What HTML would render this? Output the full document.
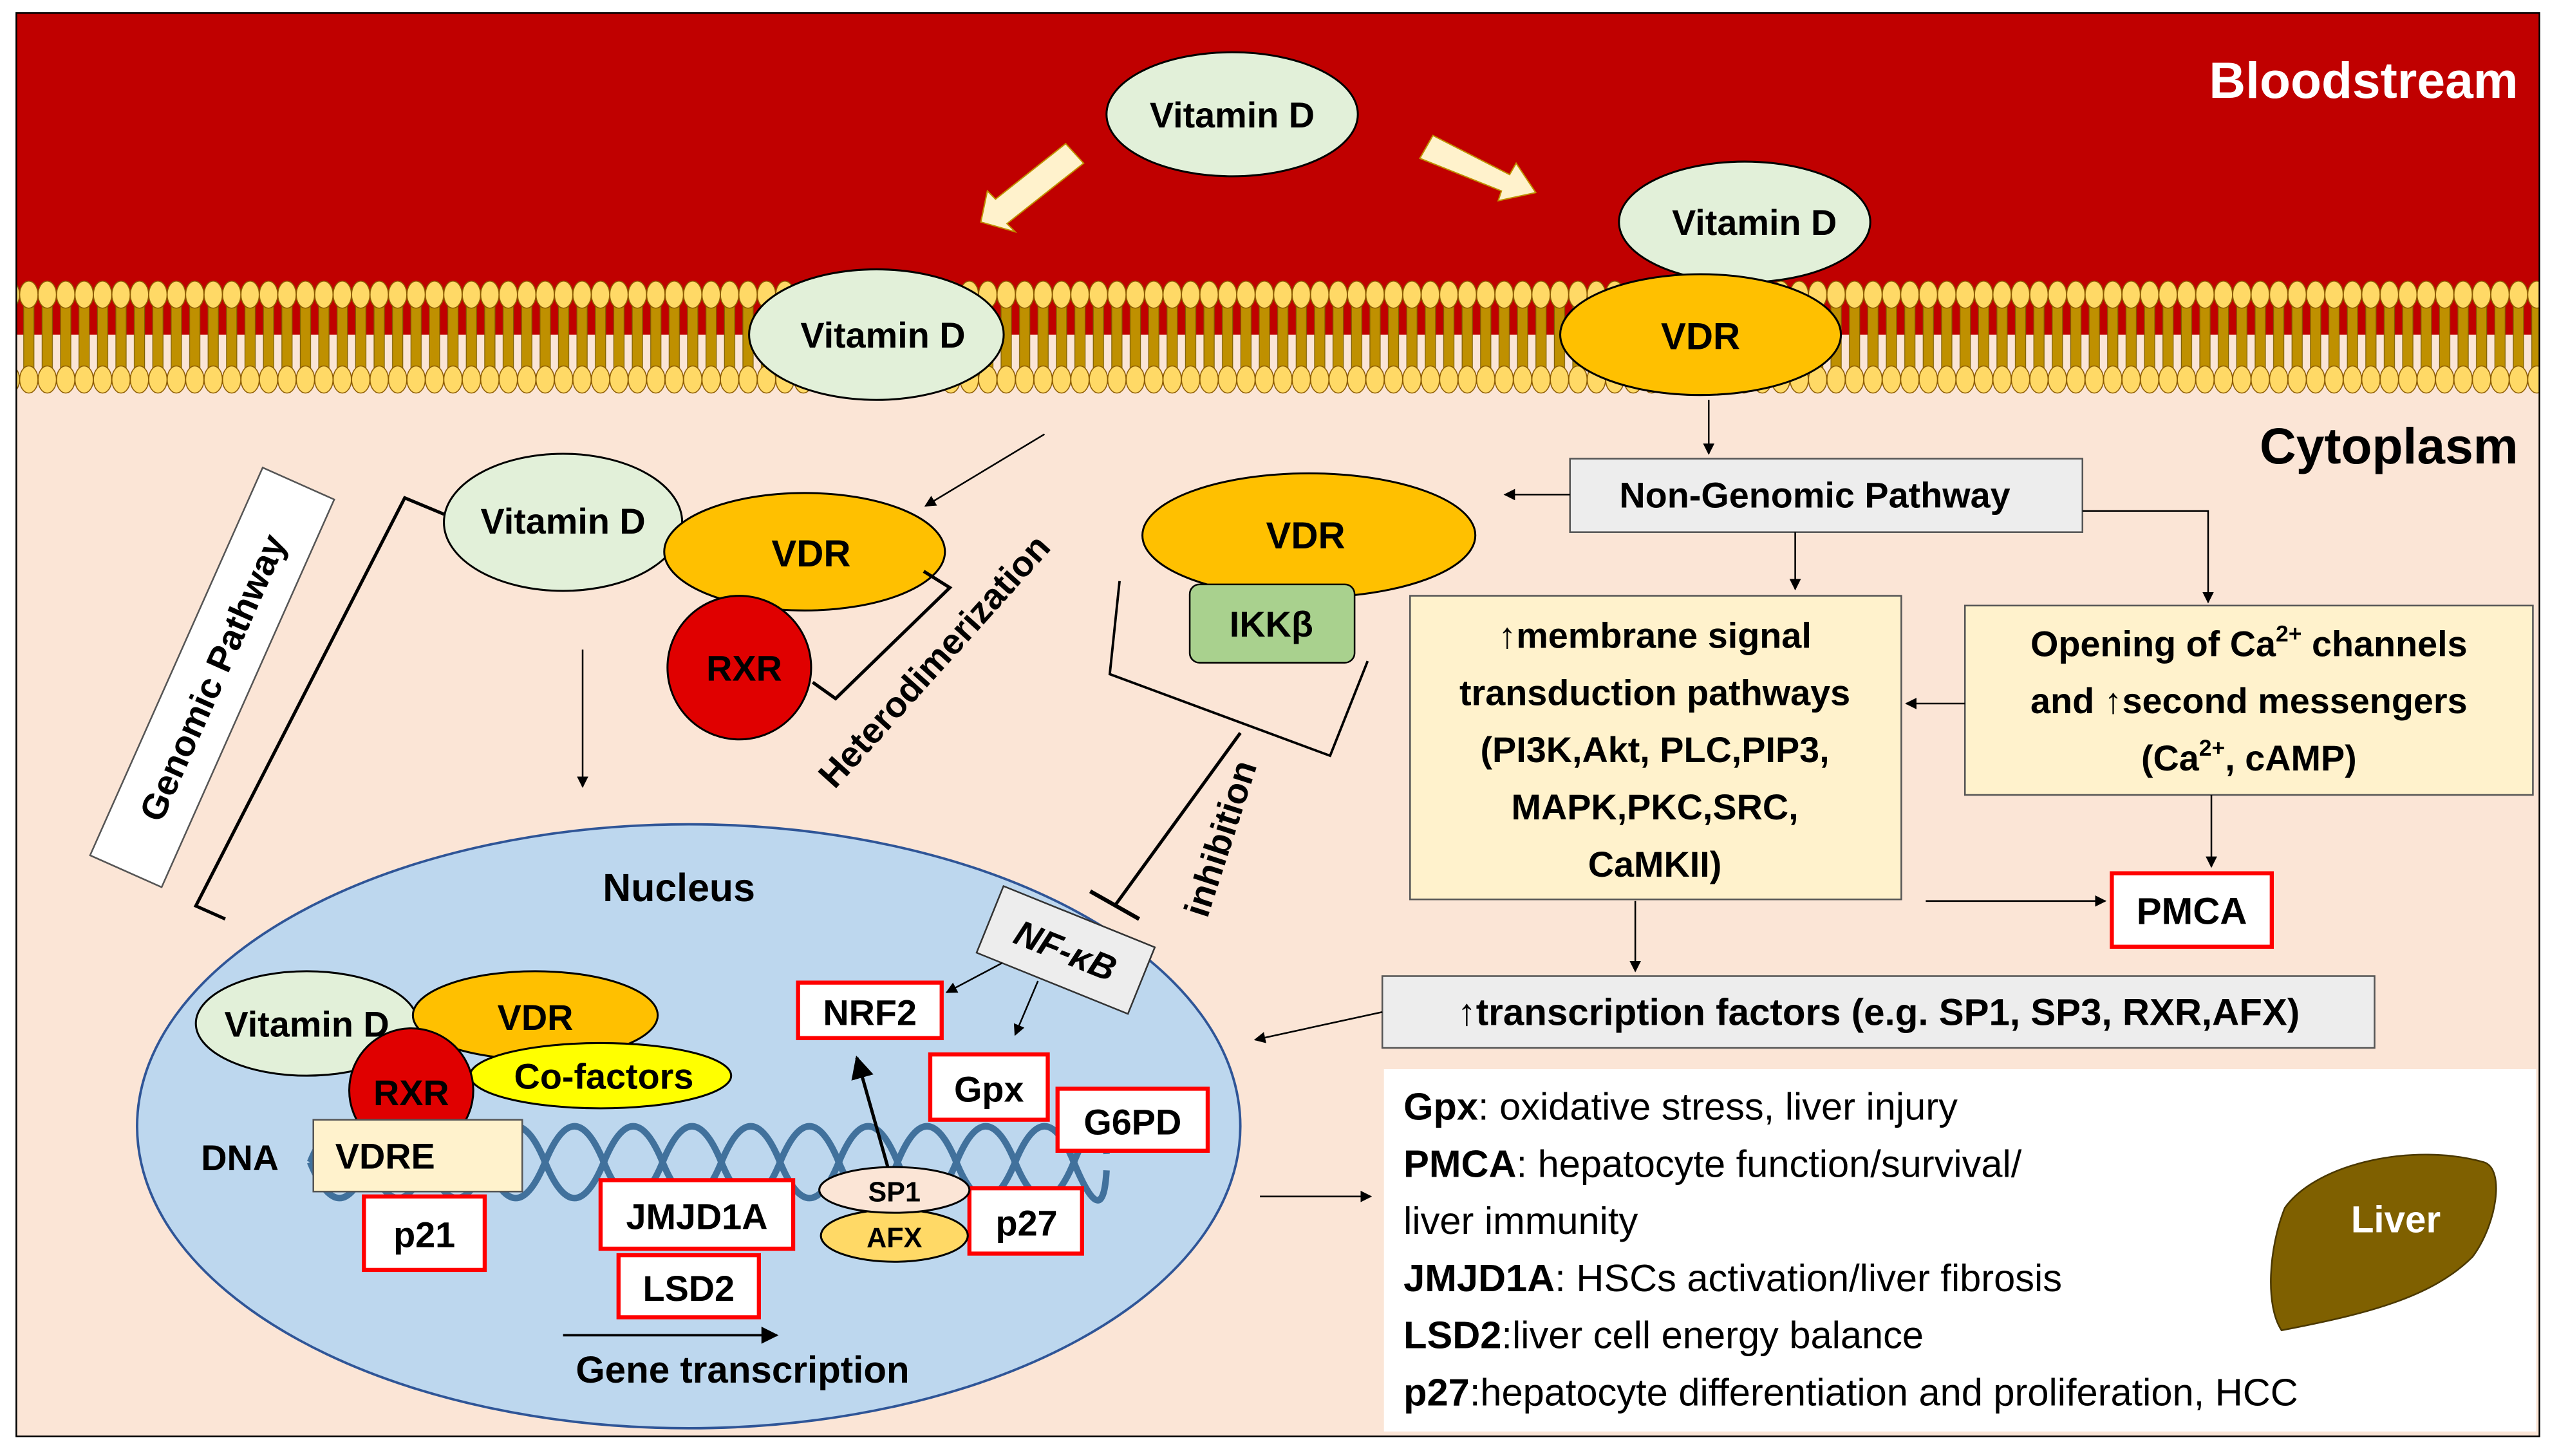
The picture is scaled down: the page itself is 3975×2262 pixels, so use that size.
<!DOCTYPE html>
<html><head><meta charset="utf-8"><style>
html,body{margin:0;padding:0;background:#fff}
svg{display:block}
text{font-family:"Liberation Sans",sans-serif}
</style></head><body>
<svg width="3975" height="2262" viewBox="0 0 1568 892" preserveAspectRatio="none" xmlns="http://www.w3.org/2000/svg">
<defs>
<marker id="ar" viewBox="0 0 10 10" refX="9" refY="5" markerWidth="7" markerHeight="7" orient="auto-start-reverse"><path d="M0,0 L10,5 L0,10 z" fill="#000"/></marker>
<pattern id="mem" x="12" y="0" width="11.3" height="892" patternUnits="userSpaceOnUse">
<rect x="2.5" y="186" width="6.3" height="48" fill="#BF9000" stroke="#7F6000" stroke-width="0.5"/>
<ellipse cx="5.65" cy="180.5" rx="5.6" ry="8.3" fill="#FFD966" stroke="#8B5A00" stroke-width="0.6"/>
<ellipse cx="5.65" cy="232.5" rx="5.6" ry="8.3" fill="#FFD966" stroke="#8B5A00" stroke-width="0.6"/>
</pattern>
</defs>
<rect x="0" y="0" width="1568" height="892" fill="#fff"/>
<rect x="10" y="8" width="1546" height="872" fill="#FBE5D6"/>
<rect x="10" y="8" width="1546" height="197" fill="#C00000"/>
<rect x="10" y="170" width="1546" height="75" fill="url(#mem)"/>
<rect x="10" y="8" width="1546" height="872" fill="none" stroke="#000" stroke-width="1"/>

<text x="1543" y="60" text-anchor="end" font-size="31" font-weight="bold" fill="#fff">Bloodstream</text>
<text x="1543" y="284" text-anchor="end" font-size="31" font-weight="bold" fill="#000">Cytoplasm</text>

<ellipse cx="755" cy="70" rx="77" ry="38" fill="#E2F0D9" stroke="#000" stroke-width="1.2"/>
<text x="755" y="78" text-anchor="middle" font-size="22" font-weight="bold">Vitamin D</text>
<polygon points="653,88 664,100 617,137 622,142 601,136 605,117 610,122" fill="#FFF2CC" stroke="#BF9000" stroke-width="0.8"/>
<polygon points="878,83 870,97 920,117 918,123 941,118 929,100 925,107" fill="#FFF2CC" stroke="#BF9000" stroke-width="0.8"/>

<ellipse cx="537" cy="205" rx="78" ry="40" fill="#E2F0D9" stroke="#000" stroke-width="1.2"/>
<text x="541" y="213" text-anchor="middle" font-size="22" font-weight="bold">Vitamin D</text>

<ellipse cx="1069" cy="136" rx="77" ry="37" fill="#E2F0D9" stroke="#000" stroke-width="1.2"/>
<text x="1075" y="144" text-anchor="middle" font-size="22" font-weight="bold">Vitamin D</text>
<ellipse cx="1042" cy="205" rx="86" ry="37" fill="#FFC000" stroke="#000" stroke-width="1.2"/>
<text x="1042" y="214" text-anchor="middle" font-size="23" font-weight="bold">VDR</text>

<line x1="1047" y1="245" x2="1047" y2="278" stroke="#000" stroke-width="1" marker-end="url(#ar)"/>
<rect x="962" y="281" width="314" height="45" fill="#EDEDED" stroke="#555" stroke-width="1"/>
<text x="1112" y="311" text-anchor="middle" font-size="22" font-weight="bold">Non-Genomic Pathway</text>
<line x1="962" y1="303" x2="922" y2="303" stroke="#000" stroke-width="1" marker-end="url(#ar)"/>
<polyline points="1276,313 1353,313 1353,369" fill="none" stroke="#000" stroke-width="1" marker-end="url(#ar)"/>
<line x1="1100" y1="326" x2="1100" y2="361" stroke="#000" stroke-width="1" marker-end="url(#ar)"/>

<rect x="864" y="365" width="301" height="186" fill="#FFF2CC" stroke="#555" stroke-width="1"/>
<g font-size="22" font-weight="bold" text-anchor="middle">
<text x="1014" y="397">↑membrane signal</text>
<text x="1014" y="432">transduction pathways</text>
<text x="1014" y="467">(PI3K,Akt, PLC,PIP3,</text>
<text x="1014" y="502">MAPK,PKC,SRC,</text>
<text x="1014" y="537">CaMKII)</text>
</g>
<rect x="1204" y="371" width="348" height="116" fill="#FFF2CC" stroke="#555" stroke-width="1"/>
<g font-size="22" font-weight="bold" text-anchor="middle">
<text x="1378" y="402">Opening of Ca<tspan font-size="14" dy="-9">2+</tspan><tspan dy="9"> channels</tspan></text>
<text x="1378" y="437">and ↑second messengers</text>
<text x="1378" y="472">(Ca<tspan font-size="14" dy="-9">2+</tspan><tspan dy="9">, cAMP)</tspan></text>
</g>
<line x1="1204" y1="431" x2="1168" y2="431" stroke="#000" stroke-width="1" marker-end="url(#ar)"/>
<line x1="1355" y1="487" x2="1355" y2="531" stroke="#000" stroke-width="1" marker-end="url(#ar)"/>
<rect x="1294" y="535" width="98" height="45" fill="#fff" stroke="#FF0000" stroke-width="2.5"/>
<text x="1343" y="566" text-anchor="middle" font-size="23" font-weight="bold">PMCA</text>
<line x1="1180" y1="552" x2="1290" y2="552" stroke="#000" stroke-width="1" marker-end="url(#ar)"/>
<line x1="1002" y1="552" x2="1002" y2="595" stroke="#000" stroke-width="1" marker-end="url(#ar)"/>
<rect x="847" y="598" width="608" height="44" fill="#EDEDED" stroke="#555" stroke-width="1"/>
<text x="1151" y="628" text-anchor="middle" font-size="23" font-weight="bold">↑transcription factors (e.g. SP1, SP3, RXR,AFX)</text>
<line x1="847" y1="620" x2="769" y2="637" stroke="#000" stroke-width="1" marker-end="url(#ar)"/>

<rect x="848" y="655" width="706" height="222" fill="#fff"/>
<g font-size="23.5">
<text x="860" y="686"><tspan font-weight="bold">Gpx</tspan>: oxidative stress, liver injury</text>
<text x="860" y="721"><tspan font-weight="bold">PMCA</tspan>: hepatocyte function/survival/</text>
<text x="860" y="756">liver immunity</text>
<text x="860" y="791"><tspan font-weight="bold">JMJD1A</tspan>: HSCs activation/liver fibrosis</text>
<text x="860" y="826"><tspan font-weight="bold">LSD2</tspan>:liver cell energy balance</text>
<text x="860" y="861"><tspan font-weight="bold">p27</tspan>:hepatocyte differentiation and proliferation, HCC</text>
</g>
<path d="M1400,740 C1420,712 1480,700 1522,712 C1535,716 1530,750 1515,770 C1490,795 1450,805 1398,815 C1388,800 1390,765 1400,740 Z" fill="#7F6000" stroke="#4a3800" stroke-width="1"/>
<text x="1468" y="755" text-anchor="middle" font-size="23" font-weight="bold" fill="#fff">Liver</text>
<line x1="772" y1="733" x2="840" y2="733" stroke="#000" stroke-width="1" marker-end="url(#ar)"/>

<line x1="640" y1="266" x2="567" y2="310" stroke="#000" stroke-width="1" marker-end="url(#ar)"/>
<ellipse cx="345" cy="320" rx="73" ry="42" fill="#E2F0D9" stroke="#000" stroke-width="1.2"/>
<ellipse cx="493" cy="338" rx="86" ry="36" fill="#FFC000" stroke="#000" stroke-width="1.2"/>
<text x="345" y="327" text-anchor="middle" font-size="22" font-weight="bold">Vitamin D</text>
<text x="497" y="347" text-anchor="middle" font-size="23" font-weight="bold">VDR</text>
<circle cx="453" cy="409" r="44" fill="#E00000" stroke="#000" stroke-width="1.2"/>
<text x="456" y="417" text-anchor="middle" font-size="22" font-weight="bold">RXR</text>
<polyline points="566,350 582,360 512,428 498,418" fill="none" stroke="#000" stroke-width="2"/>
<text x="0" y="0" transform="translate(578,410) rotate(-48)" text-anchor="middle" font-size="22" font-weight="bold">Heterodimerization</text>
<line x1="357" y1="398" x2="357" y2="482" stroke="#000" stroke-width="1" marker-end="url(#ar)"/>
<g transform="translate(130,415) rotate(-66)">
<rect x="-130" y="-24" width="260" height="48" fill="#fff" stroke="#555" stroke-width="1"/>
<text x="0" y="8" text-anchor="middle" font-size="22" font-weight="bold">Genomic Pathway</text>
</g>
<polyline points="272,315 248,305 120,555 138,563" fill="none" stroke="#000" stroke-width="2"/>

<ellipse cx="802" cy="328" rx="102" ry="38" fill="#FFC000" stroke="#000" stroke-width="1.2"/>
<text x="800" y="336" text-anchor="middle" font-size="23" font-weight="bold">VDR</text>
<rect x="729" y="358" width="101" height="48" rx="6" fill="#A9D18E" stroke="#000" stroke-width="1"/>
<text x="779" y="390" text-anchor="middle" font-size="22" font-weight="bold">IKKβ</text>
<polyline points="686,356 680,413 815,463 838,405" fill="none" stroke="#000" stroke-width="1.5"/>
<line x1="760" y1="449" x2="683" y2="555" stroke="#000" stroke-width="2"/>
<line x1="668" y1="546" x2="698" y2="563" stroke="#000" stroke-width="2.5"/>
<text x="0" y="0" transform="translate(755,516) rotate(-72)" text-anchor="middle" font-size="22" font-weight="bold">inhibition</text>

<ellipse cx="422" cy="690" rx="338" ry="185" fill="#BDD7EE" stroke="#2F5597" stroke-width="1.5"/>
<text x="416" y="552" text-anchor="middle" font-size="24" font-weight="bold">Nucleus</text>

<path d="M190,712 q18,-44 36,0 t36,0 t36,0 t36,0 t36,0 t36,0 t36,0 t36,0 t36,0 t36,0 t36,0 t36,0 t36,0 t20,5" fill="none" stroke="#41719C" stroke-width="4"/>
<path d="M190,712 q18,44 36,0 t36,0 t36,0 t36,0 t36,0 t36,0 t36,0 t36,0 t36,0 t36,0 t36,0 t36,0 t36,0 t20,-5" fill="none" stroke="#41719C" stroke-width="4"/>

<ellipse cx="188" cy="627" rx="68" ry="32" fill="#E2F0D9" stroke="#000" stroke-width="1.2"/>
<text x="188" y="635" text-anchor="middle" font-size="22" font-weight="bold">Vitamin D</text>
<ellipse cx="328" cy="622" rx="75" ry="27" fill="#FFC000" stroke="#000" stroke-width="1.2"/>
<text x="328" y="631" text-anchor="middle" font-size="22" font-weight="bold">VDR</text>
<ellipse cx="368" cy="659" rx="80" ry="20" fill="#FFFF00" stroke="#000" stroke-width="1.2"/>
<text x="370" y="667" text-anchor="middle" font-size="22" font-weight="bold">Co-factors</text>
<circle cx="252" cy="668" r="38" fill="#E00000" stroke="#000" stroke-width="1.2"/>
<text x="252" y="677" text-anchor="middle" font-size="22" font-weight="bold">RXR</text>
<rect x="192" y="686" width="128" height="44" fill="#FFF2CC" stroke="#555" stroke-width="1"/>
<text x="236" y="716" text-anchor="middle" font-size="22" font-weight="bold">VDRE</text>
<text x="147" y="717" text-anchor="middle" font-size="22" font-weight="bold">DNA</text>

<g transform="translate(653,582) rotate(22)">
<rect x="-50" y="-22" width="100" height="44" fill="#EDEDED" stroke="#333" stroke-width="1"/>
<text x="0" y="8" text-anchor="middle" font-size="22" font-weight="bold" font-style="italic">NF-κB</text>
</g>
<line x1="614" y1="590" x2="580" y2="608" stroke="#000" stroke-width="1" marker-end="url(#ar)"/>
<line x1="636" y1="601" x2="622" y2="634" stroke="#000" stroke-width="1" marker-end="url(#ar)"/>

<g fill="#fff" stroke="#FF0000" stroke-width="2.5">
<rect x="489" y="602" width="88" height="34"/>
<rect x="570" y="646" width="72" height="40"/>
<rect x="648" y="667" width="92" height="38"/>
<rect x="594" y="728" width="69" height="40"/>
<rect x="368" y="723" width="118" height="42"/>
<rect x="379" y="769" width="86" height="38"/>
<rect x="223" y="733" width="74" height="45"/>
</g>
<g font-size="22" font-weight="bold" text-anchor="middle">
<text x="533" y="628">NRF2</text>
<text x="606" y="675">Gpx</text>
<text x="694" y="695">G6PD</text>
<text x="629" y="757">p27</text>
<text x="427" y="753">JMJD1A</text>
<text x="422" y="797">LSD2</text>
<text x="260" y="764">p21</text>
</g>
<ellipse cx="548" cy="757" rx="45" ry="16" fill="#FFD966" stroke="#000" stroke-width="1.2"/>
<text x="548" y="764" text-anchor="middle" font-size="17" font-weight="bold">AFX</text>
<ellipse cx="548" cy="729" rx="46" ry="14" fill="#FBE5D6" stroke="#000" stroke-width="1.2"/>
<text x="548" y="736" text-anchor="middle" font-size="17" font-weight="bold">SP1</text>
<line x1="544" y1="715" x2="525" y2="648" stroke="#000" stroke-width="2" marker-end="url(#ar)"/>

<line x1="345" y1="818" x2="476" y2="818" stroke="#000" stroke-width="1.5" marker-end="url(#ar)"/>
<text x="455" y="847" text-anchor="middle" font-size="23" font-weight="bold">Gene transcription</text>
</svg>
</body></html>
